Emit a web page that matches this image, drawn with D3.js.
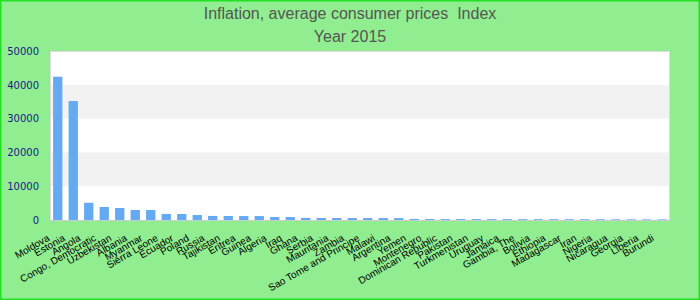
<!DOCTYPE html>
<html>
<head>
<meta charset="utf-8">
<script src="https://cdn.jsdelivr.net/npm/d3@7"></script>
<style>
  body { margin: 0; }
  svg { display: block; }
</style>
</head>
<body>
<div id="vis"></div>
<script>
'use strict';

var countries = ['Moldova', 'Estonia', 'Angola', 'Congo, Democratic', 'Uzbekistan', 'Albania',
    'Myanmar', 'Sierra Leone', 'Ecuador', 'Poland', 'Russia', 'Tajikistan', 'Eritrea', 'Guinea',
    'Algeria', 'Iraq', 'Ghana', 'Serbia', 'Mauritania', 'Zambia', 'Sao Tome and Principe',
    'Malawi', 'Argentina', 'Yemen', 'Montenegro', 'Dominican Republic', 'Pakistan',
    'Turkmenistan', 'Uruguay', 'Jamaica', 'Gambia, The', 'Bolivia', 'Ethiopia', 'Madagascar',
    'Iran', 'Nigeria', 'Nicaragua', 'Georgia', 'Liberia', 'Burundi'];

var values = [42400, 35200, 5100, 3850, 3550, 2960, 2950, 1800, 1780, 1480, 1200, 1180, 1170,
    1160, 900, 880, 620, 600, 590, 580, 575, 570, 560, 320, 290, 280, 270, 265, 260, 255, 250,
    245, 240, 235, 230, 220, 210, 200, 190, 180];

var yTicks = [0, 10000, 20000, 30000, 40000, 50000];

var titleLines = ['Inflation, average consumer prices  Index', 'Year 2015'];

var width = 700, height = 300;
var margin = {top: 51, right: 30, bottom: 80, left: 50};

var svg = d3.select('#vis')
    .append('svg')
    .attr('width', width)
    .attr('height', height);

// page background with green frame
svg.append('rect')
    .attr('x', 0.75).attr('y', 0.75)
    .attr('width', width - 1.5).attr('height', height - 1.5)
    .attr('fill', '#90ee90')
    .attr('stroke', '#22e022')
    .attr('stroke-width', 1.5);

var x = d3.scaleBand()
    .domain(countries)
    .range([margin.left, width - margin.right])
    .paddingInner(0.4)
    .paddingOuter(0.2);

var y = d3.scaleLinear()
    .domain([0, 50000])
    .range([height - margin.bottom, margin.top]);

// plot area
svg.append('rect')
    .attr('x', margin.left)
    .attr('y', margin.top)
    .attr('width', width - margin.left - margin.right)
    .attr('height', y(0) - margin.top)
    .attr('fill', '#fff');

// alternating bands
var bands = yTicks.slice(0, -1).filter(function (d, i) { return i % 2 === 1; });
svg.append('g')
    .selectAll('rect')
    .data(bands)
    .enter().append('rect')
    .attr('x', margin.left)
    .attr('width', width - margin.left - margin.right)
    .attr('y', function (d) { return y(d + 10000); })
    .attr('height', function (d) { return y(d) - y(d + 10000); })
    .attr('fill', '#f2f2f2');

svg.append('rect')
    .attr('x', margin.left + 0.5)
    .attr('y', margin.top + 0.5)
    .attr('width', width - margin.left - margin.right - 1)
    .attr('height', y(0) - margin.top)
    .attr('fill', 'none')
    .attr('stroke', '#dcdcdc');

// bars
svg.append('g')
    .selectAll('rect')
    .data(values)
    .enter().append('rect')
    .attr('x', function (d, i) { return x(countries[i]); })
    .attr('width', x.bandwidth())
    .attr('y', function (d) { return y(d); })
    .attr('height', function (d) { return y(0) - y(d); })
    .attr('fill', '#63aaf2');

// y axis labels
var yAxis = svg.append('g')
    .attr('transform', 'translate(' + (margin.left - 11) + ',0)')
    .call(d3.axisLeft(y).tickValues(yTicks).tickFormat(d3.format('d')).tickSize(0).tickPadding(0));
yAxis.select('.domain').remove();
yAxis.selectAll('text')
    .attr('fill', '#1a1a8a')
    .style('font-family', '"DejaVu Sans", sans-serif')
    .style('font-size', '10px');

// x axis labels, rotated and anchored at their end
var xAxis = svg.append('g')
    .attr('transform', 'translate(0,' + y(0) + ')')
    .call(d3.axisBottom(x).tickSize(0).tickPadding(0));
xAxis.select('.domain').attr('stroke', '#cccccc');
xAxis.selectAll('text')
    .attr('fill', '#000')
    .attr('dy', null)
    .attr('y', 0)
    .attr('text-anchor', 'end')
    .attr('transform', 'translate(-7.5,20) rotate(-30)')
    .style('font-family', '"Liberation Sans", Arial, sans-serif')
    .style('font-size', '10px');

// title
svg.append('g')
    .selectAll('text')
    .data(titleLines)
    .enter().append('text')
    .attr('x', width / 2)
    .attr('y', function (d, i) { return 19 + i * 23; })
    .attr('text-anchor', 'middle')
    .attr('fill', '#555')
    .style('white-space', 'pre')
    .style('font-family', '"Liberation Sans", Arial, sans-serif')
    .style('font-size', '16px')
    .text(function (d) { return d; });
</script>
</body>
</html>
